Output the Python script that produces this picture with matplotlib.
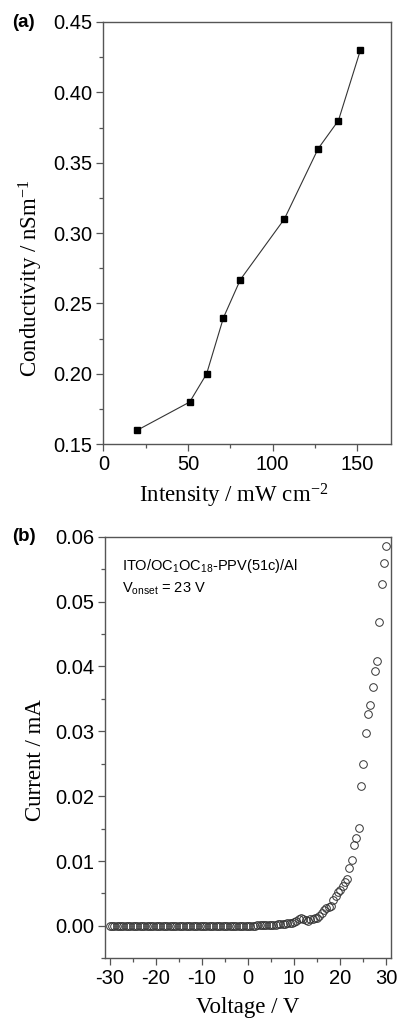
'''
Two panel figure: photoconductivity vs light intensity and I-V curve
'''
import numpy as np
import matplotlib.pyplot as plt
from matplotlib.ticker import MultipleLocator, FormatStrFormatter

# panel (a) data
intensity = [20, 51, 61, 71, 81, 107, 127, 139, 152]
conductivity = [0.160, 0.180, 0.200, 0.240, 0.267, 0.310, 0.360, 0.380, 0.430]

# panel (b) data, voltage sweep in 0.5 V steps
voltage = [
    -30.0, -29.5, -29.0, -28.5, -28.0, -27.5, -27.0, -26.5, -26.0, -25.5,
    -25.0, -24.5, -24.0, -23.5, -23.0, -22.5, -22.0, -21.5, -21.0, -20.5,
    -20.0, -19.5, -19.0, -18.5, -18.0, -17.5, -17.0, -16.5, -16.0, -15.5,
    -15.0, -14.5, -14.0, -13.5, -13.0, -12.5, -12.0, -11.5, -11.0, -10.5,
    -10.0, -9.5, -9.0, -8.5, -8.0, -7.5, -7.0, -6.5, -6.0, -5.5,
    -5.0, -4.5, -4.0, -3.5, -3.0, -2.5, -2.0, -1.5, -1.0, -0.5,
    0.0, 0.5, 1.0, 1.5, 2.0, 2.5, 3.0, 3.5, 4.0, 4.5,
    5.0, 5.5, 6.0, 6.5, 7.0, 7.5, 8.0, 8.5, 9.0, 9.5,
    10.0, 10.5, 11.0, 11.5, 12.0, 12.5, 13.0, 13.5, 14.0, 14.5,
    15.0, 15.5, 16.0, 16.5, 17.0, 17.5, 18.0, 18.5, 19.0, 19.5,
    20.0, 20.5, 21.0, 21.5, 22.0, 22.5, 23.0, 23.5, 24.0, 24.5,
    25.0, 25.5, 26.0, 26.5, 27.0, 27.5, 28.0, 28.5, 29.0, 29.5,
    30.0,
]
current = [
    0.0, 0.0, 0.0, 0.0, 0.0, 0.0, 0.0, 0.0, 0.0, 0.0,
    0.0, 0.0, 0.0, 0.0, 0.0, 0.0, 0.0, 0.0, 0.0, 0.0,
    0.0, 0.0, 0.0, 0.0, 0.0, 0.0, 0.0, 0.0, 0.0, 0.0,
    0.0, 0.0, 0.0, 0.0, 0.0, 0.0, 0.0, 0.0, 0.0, 0.0,
    0.0, 0.0, 0.0, 0.0, 0.0, 0.0, 0.0, 0.0, 0.0, 0.0,
    0.00001, 0.00001, 0.00001, 0.00002, 0.00002, 0.00002, 0.00002, 0.00003, 0.00003, 0.00003,
    0.00003, 0.00004, 0.00005, 0.00006, 0.00007, 0.00008, 0.00010, 0.00011, 0.00012, 0.00014,
    0.00016, 0.00018, 0.00020, 0.00022, 0.00026, 0.00030, 0.00035, 0.00040, 0.00046, 0.00052,
    0.00060, 0.00070, 0.00110, 0.00120, 0.00110, 0.00090, 0.00080, 0.00100, 0.00110, 0.00120,
    0.00120, 0.00150, 0.00200, 0.00240, 0.00270, 0.00290, 0.00310, 0.00400, 0.00460, 0.00530,
    0.00550, 0.00610, 0.00670, 0.00730, 0.00900, 0.01010, 0.01240, 0.01360, 0.01510, 0.02150,
    0.02490, 0.02980, 0.03270, 0.03410, 0.03690, 0.03930, 0.04090, 0.04690, 0.05270, 0.05590,
    0.05860,
]

sans = "Liberation Sans"
serif = "Liberation Serif"
tick_size = 14.5
label_size = 16.5
spine_col = "#555555"

plt.rcParams["axes.unicode_minus"] = False
plt.rcParams["mathtext.fontset"] = "custom"
plt.rcParams["mathtext.rm"] = serif
plt.rcParams["mathtext.it"] = serif + ":italic"
plt.rcParams["mathtext.sf"] = sans
plt.rcParams["mathtext.default"] = "rm"

fig = plt.figure(figsize=(3.98, 10.22), dpi=100)
ax1 = fig.add_axes([0.260, 0.5653, 0.722, 0.4132])
ax2 = fig.add_axes([0.2638, 0.0623, 0.7186, 0.4126])


def style_axes(ax):
    for sp in ax.spines.values():
        sp.set_color(spine_col)
        sp.set_linewidth(1.0)
    ax.tick_params(which="both", direction="out", top=False, right=False,
                   color=spine_col, width=0.9)
    ax.tick_params(which="major", length=5, labelsize=tick_size, pad=3)
    ax.tick_params(which="minor", length=3)
    for lab in ax.get_xticklabels() + ax.get_yticklabels():
        lab.set_fontfamily(sans)


# (a) conductivity vs intensity
ax1.plot(intensity, conductivity, color="#333333", lw=0.8, marker="s",
         ms=4.5, mfc="black", mec="black")
ax1.set_xlim(0, 170)
ax1.set_ylim(0.15, 0.45)
ax1.xaxis.set_major_locator(MultipleLocator(50))
ax1.xaxis.set_minor_locator(MultipleLocator(25))
ax1.yaxis.set_major_locator(MultipleLocator(0.05))
ax1.yaxis.set_minor_locator(MultipleLocator(0.025))
ax1.yaxis.set_major_formatter(FormatStrFormatter("%.2f"))
style_axes(ax1)
ax1.set_xlabel("Intensity / mW cm$^{-2}$", fontsize=label_size, family=serif)
ax1.set_ylabel("Conductivity / nSm$^{-1}$", fontsize=label_size, family=serif)
ax1.xaxis.set_label_coords(0.454, -0.09)
ax1.yaxis.set_label_coords(-0.205, 0.393)
fig.text(0.03, 0.978, "(a)", fontsize=13.5, fontweight="bold", family=sans,
         va="center", ha="left")

# (b) I-V curve
ax2.plot(voltage, current, ls="none", marker="o", ms=5.5, mfc="none",
         mec="#333333", mew=0.7)
ax2.set_xlim(-31, 31)
ax2.set_ylim(-0.005, 0.06)
ax2.xaxis.set_major_locator(MultipleLocator(10))
ax2.xaxis.set_minor_locator(MultipleLocator(5))
ax2.yaxis.set_major_locator(MultipleLocator(0.01))
ax2.yaxis.set_minor_locator(MultipleLocator(0.005))
ax2.yaxis.set_major_formatter(FormatStrFormatter("%.2f"))
style_axes(ax2)
ax2.set_xlabel("Voltage / V", fontsize=label_size, family=serif, labelpad=6)
ax2.set_ylabel("Current / mA", fontsize=label_size, family=serif)
ax2.yaxis.set_label_coords(-0.205, 0.47)
ax2.text(0.06, 0.93, r"ITO/OC$_\mathsf{1}$OC$_\mathsf{18}$-PPV(51c)/Al",
         transform=ax2.transAxes, fontsize=10.5, family=sans, va="center")
ax2.text(0.06, 0.875, r"V$_\mathsf{onset}$ = 23 V", transform=ax2.transAxes,
         fontsize=10.5, family=sans, va="center")
fig.text(0.03, 0.475, "(b)", fontsize=13.5, fontweight="bold", family=sans,
         va="center", ha="left")

fig.savefig("out.png", dpi=100)
